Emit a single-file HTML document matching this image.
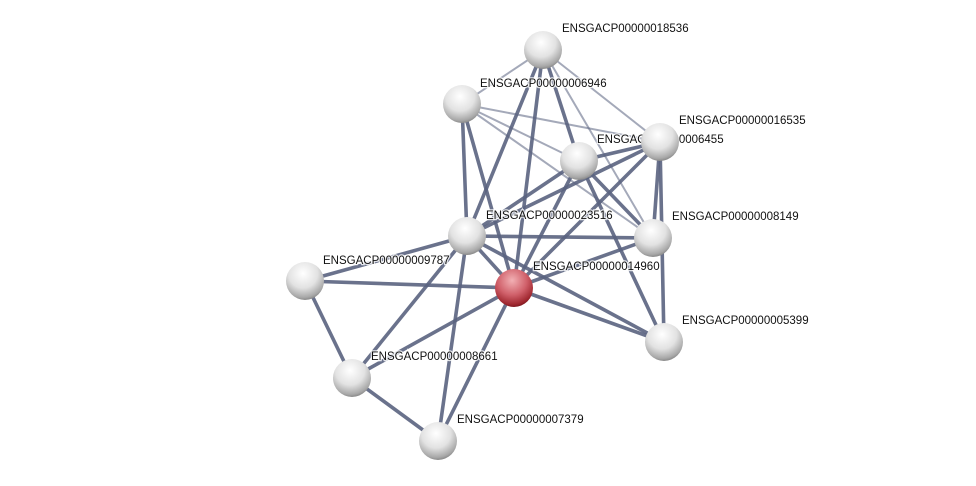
<!DOCTYPE html>
<html><head><meta charset="utf-8"><style>
html,body{margin:0;padding:0;background:#fff;}
svg{display:block}
text{font-family:"Liberation Sans",sans-serif;font-size:11.5px;fill:#111;stroke:#fff;stroke-width:2.5px;stroke-opacity:0.8;paint-order:stroke;}
</style></head><body>
<svg width="976" height="486" viewBox="0 0 976 486">
<defs>
<radialGradient id="g" cx="45%" cy="30%" r="70%">
<stop offset="0" stop-color="#ffffff"/><stop offset="0.55" stop-color="#e2e2e2"/><stop offset="0.9" stop-color="#a8a8a8"/><stop offset="1" stop-color="#8a8a8a"/>
</radialGradient>
<radialGradient id="r" cx="45%" cy="30%" r="70%">
<stop offset="0" stop-color="#f2b0b4"/><stop offset="0.55" stop-color="#d0606a"/><stop offset="0.9" stop-color="#a02830"/><stop offset="1" stop-color="#801820"/>
</radialGradient>
</defs>
<g stroke="#5a6380" stroke-linecap="round">
<g stroke-width="3.6" stroke-opacity="0.9">
<line x1="543" y1="50" x2="579" y2="161"/>
<line x1="543" y1="50" x2="467" y2="236"/>
<line x1="543" y1="50" x2="514" y2="288"/>
<line x1="462" y1="104" x2="467" y2="236"/>
<line x1="462" y1="104" x2="514" y2="288"/>
<line x1="579" y1="161" x2="660" y2="142"/>
<line x1="579" y1="161" x2="467" y2="236"/>
<line x1="579" y1="161" x2="514" y2="288"/>
<line x1="579" y1="161" x2="653" y2="238"/>
<line x1="579" y1="161" x2="664" y2="342"/>
<line x1="660" y1="142" x2="467" y2="236"/>
<line x1="660" y1="142" x2="514" y2="288"/>
<line x1="660" y1="142" x2="653" y2="238"/>
<line x1="660" y1="142" x2="664" y2="342"/>
<line x1="467" y1="236" x2="653" y2="238"/>
<line x1="467" y1="236" x2="514" y2="288"/>
<line x1="467" y1="236" x2="305" y2="281"/>
<line x1="467" y1="236" x2="352" y2="378"/>
<line x1="467" y1="236" x2="438" y2="441"/>
<line x1="467" y1="236" x2="664" y2="342"/>
<line x1="653" y1="238" x2="514" y2="288"/>
<line x1="305" y1="281" x2="514" y2="288"/>
<line x1="305" y1="281" x2="352" y2="378"/>
<line x1="514" y1="288" x2="664" y2="342"/>
<line x1="514" y1="288" x2="352" y2="378"/>
<line x1="514" y1="288" x2="438" y2="441"/>
<line x1="352" y1="378" x2="438" y2="441"/>
</g>
<g stroke-width="2" stroke-opacity="0.55">
<line x1="543" y1="50" x2="660" y2="142"/>
<line x1="543" y1="50" x2="653" y2="238"/>
<line x1="462" y1="104" x2="579" y2="161"/>
<line x1="462" y1="104" x2="660" y2="142"/>
<line x1="462" y1="104" x2="653" y2="238"/>
<line x1="543" y1="50" x2="462" y2="104"/>
</g>
</g>
<text x="562" y="32">ENSGACP00000018536</text>
<text x="480" y="87">ENSGACP00000006946</text>
<text x="597" y="143">ENSGACP00000006455</text>
<text x="679" y="124">ENSGACP00000016535</text>
<text x="486" y="219">ENSGACP00000023516</text>
<text x="672" y="220">ENSGACP00000008149</text>
<text x="323" y="264">ENSGACP00000009787</text>
<text x="533" y="270">ENSGACP00000014960</text>
<text x="682" y="324">ENSGACP00000005399</text>
<text x="371" y="360">ENSGACP00000008661</text>
<text x="457" y="423">ENSGACP00000007379</text>
<g>
<circle cx="543" cy="50" r="19" fill="url(#g)"/>
<circle cx="462" cy="104" r="19" fill="url(#g)"/>
<circle cx="579" cy="161" r="19" fill="url(#g)"/>
<circle cx="660" cy="142" r="19" fill="url(#g)"/>
<circle cx="467" cy="236" r="19" fill="url(#g)"/>
<circle cx="653" cy="238" r="19" fill="url(#g)"/>
<circle cx="305" cy="281" r="19" fill="url(#g)"/>
<circle cx="514" cy="288" r="19" fill="url(#r)"/>
<circle cx="664" cy="342" r="19" fill="url(#g)"/>
<circle cx="352" cy="378" r="19" fill="url(#g)"/>
<circle cx="438" cy="441" r="19" fill="url(#g)"/>
</g>
</svg>
</body></html>
